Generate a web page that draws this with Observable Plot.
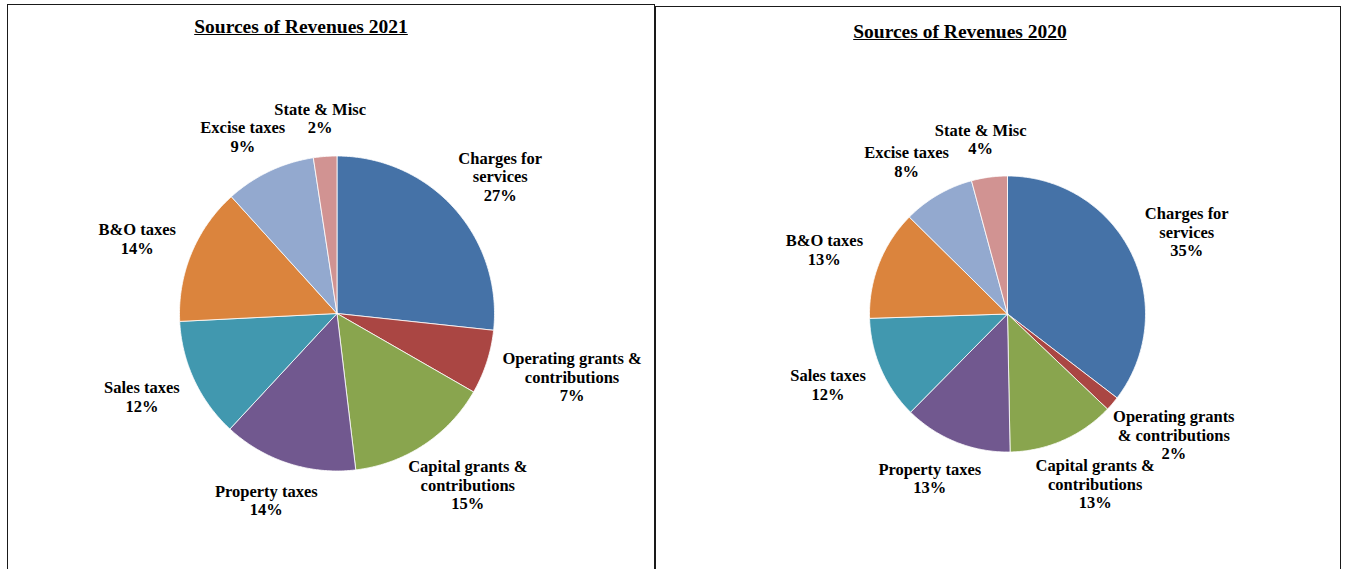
<!DOCTYPE html>
<html><head><meta charset="utf-8">
<script src="https://cdn.jsdelivr.net/npm/d3@7"></script>
<script src="https://cdn.jsdelivr.net/npm/@observablehq/plot@0.6"></script>
<style>
html,body{margin:0;padding:0;background:#fff;overflow:hidden;width:1350px;height:569px;}
#page{position:relative;width:1350px;height:569px;overflow:hidden;}
.panel{position:absolute;border:1.5px solid #1a1a1a;border-bottom:none;height:700px;box-sizing:border-box;}
.title{position:absolute;white-space:nowrap;transform:translateX(-50%);font-family:"Liberation Serif","Times New Roman",serif;font-weight:bold;font-size:19.5px;text-decoration:underline;color:#000;line-height:1;}
.chart{position:absolute;left:0;top:0;}
</style></head><body><div id="page"></div>
<script>
// ---- data ----
const categories = ["Charges for services","Operating grants & contributions","Capital grants & contributions","Property taxes","Sales taxes","B&O taxes","Excise taxes","State & Misc"];
const labels2021 = ["Charges for\nservices","Operating grants &\ncontributions","Capital grants &\ncontributions","Property taxes","Sales taxes","B&O taxes","Excise taxes","State & Misc"];
const labels2020 = ["Charges for\nservices","Operating grants\n& contributions","Capital grants &\ncontributions","Property taxes","Sales taxes","B&O taxes","Excise taxes","State & Misc"];
const values2021 = [26.7, 6.6, 14.8, 13.8, 12.3, 14.1, 9.3, 2.4];
const values2020 = [35.4, 1.7, 12.6, 12.7, 12.1, 12.9, 8.4, 4.2];
const colors = ["#4572A7","#AA4643","#89A54E","#71588F","#4198AF","#DB843D","#93A9CF","#D19392"];

const FONT = '"Liberation Serif","Times New Roman",serif';
const FS = 16.5, LH = 1.12;
const ctx = document.createElement("canvas").getContext("2d");
ctx.font = `bold ${FS}px "Liberation Serif"`;

function pieChart({values, labels, width, height, cx, cy, r, gap}) {
  const total = d3.sum(values);
  const slices = [];
  const textRows = [];
  let acc = 0;
  values.forEach((v, i) => {
    const a0 = acc / total * 2 * Math.PI; acc += v;
    const a1 = acc / total * 2 * Math.PI;
    const n = Math.max(2, Math.ceil((a1 - a0) / 0.01));
    slices.push({key: categories[i], color: colors[i], px: 0, py: 0});
    for (let k = 0; k <= n; k++) {
      const a = a0 + (a1 - a0) * k / n;
      slices.push({key: categories[i], color: colors[i], px: Math.sin(a), py: Math.cos(a)});
    }
    slices.push({key: categories[i], color: colors[i], px: 0, py: 0});
    const text = labels[i] + "\n" + Math.round(v) + "%";
    const lines = text.split("\n");
    const w = d3.max(lines, l => ctx.measureText(l).width);
    const h = lines.length * FS * LH;
    const mid = (a0 + a1) / 2, s = Math.sin(mid), c = Math.cos(mid);
    textRows.push({
      text,
      tx: ((r + gap) * s + s * w / 2) / r,
      ty: ((r + gap) * c + c * h / 2) / r
    });
  });
  return Plot.plot({
    width, height,
    axis: null,
    x: {domain: [-1, 1], range: [cx - r, cx + r]},
    y: {domain: [-1, 1], range: [cy + r, cy - r]},
    color: {type: "identity"},
    style: {background: "transparent", overflow: "visible"},
    marks: [
      Plot.line(slices, {x: "px", y: "py", z: "key", fill: "color", stroke: "white", strokeWidth: 0.8, curve: "linear"}),
      Plot.text(textRows, {x: "tx", y: "ty", text: "text", fontSize: FS, fontWeight: "bold", fontFamily: FONT, lineHeight: LH, textAnchor: "middle", lineAnchor: "middle", fill: "#000"})
    ]
  });
}

const page = document.getElementById("page");
function panel(left, top, width, title, titleX, titleY, chartOpts) {
  const p = document.createElement("div");
  p.className = "panel";
  Object.assign(p.style, {left: left + "px", top: top + "px", width: width + "px"});
  const svg = pieChart(chartOpts);
  svg.classList.add("chart");
  p.appendChild(svg);
  const t = document.createElement("div");
  t.className = "title";
  t.textContent = title;
  Object.assign(t.style, {left: titleX + "px", top: titleY + "px"});
  p.appendChild(t);
  page.appendChild(p);
}

panel(7, 4, 648, "Sources of Revenues 2021", 293, 12,
  {values: values2021, labels: labels2021, width: 645, height: 560, cx: 328.5, cy: 308, r: 157.5, gap: 20});
panel(655, 6, 686, "Sources of Revenues 2020", 304, 15,
  {values: values2020, labels: labels2020, width: 683, height: 560, cx: 351, cy: 306.5, r: 138, gap: 20});
</script>
</body></html>
